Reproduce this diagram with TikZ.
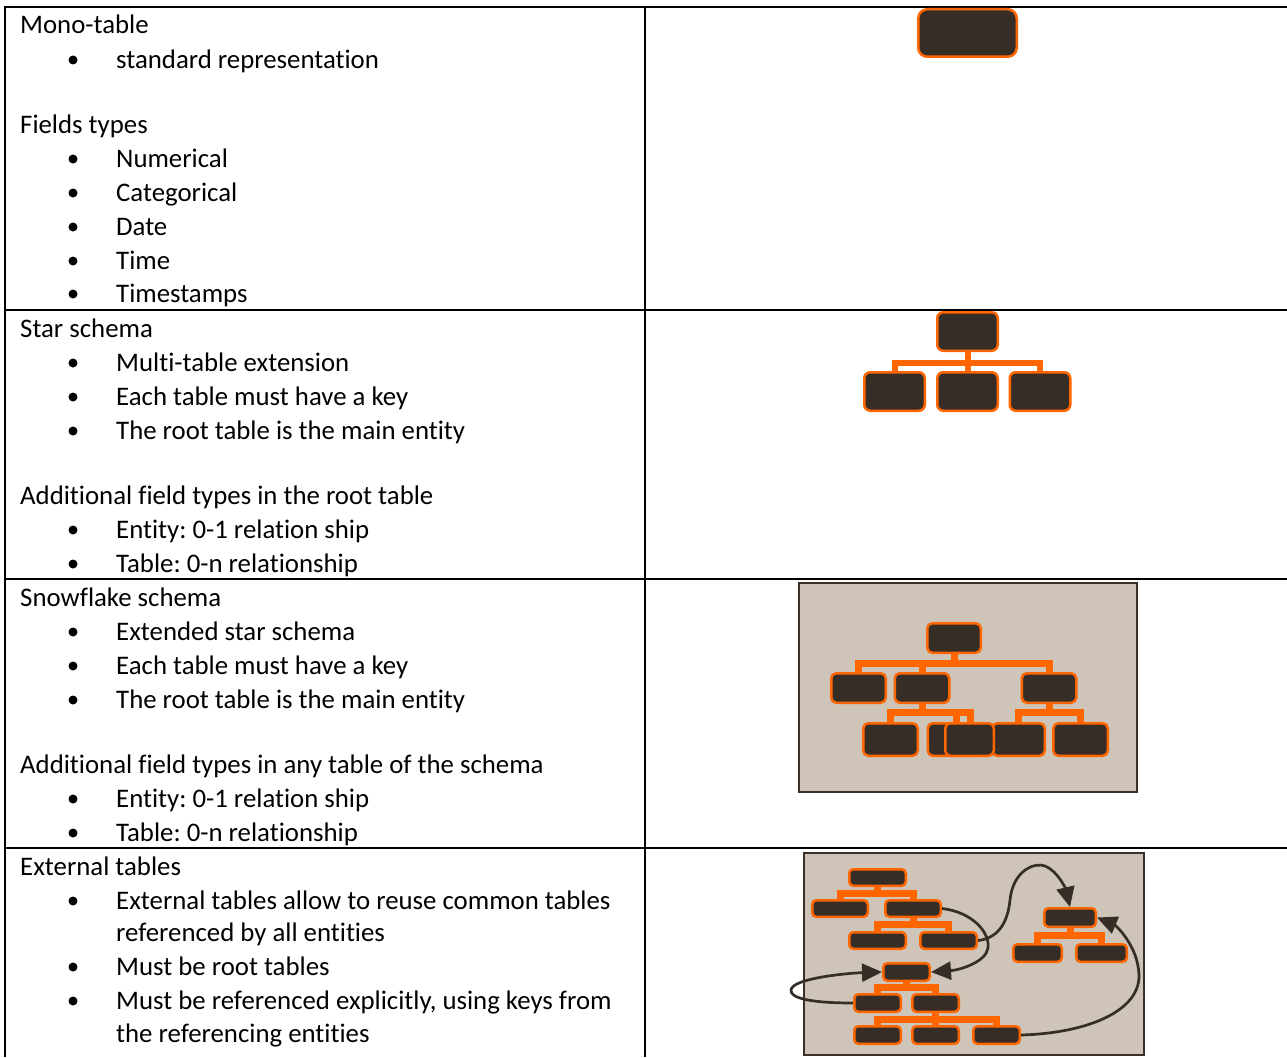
\documentclass[tikz,border=0pt]{standalone}
\usepackage{fontspec}
\setmainfont[Ligatures=NoCommon]{Carlito}
\usetikzlibrary{arrows.meta,calc}
\definecolor{boxfill}{HTML}{362D27}
\definecolor{org}{HTML}{FF6600}
\definecolor{panel}{HTML}{CEC4B8}
\definecolor{pborder}{HTML}{3B3028}
\frenchspacing
\begin{document}
\begin{tikzpicture}[x=1pt,y=-1pt,
 txt/.style={anchor=base west,inner sep=0,yshift=-2pt,font=\fontsize{26.8}{34}\selectfont},
 bul/.style={circle,fill=black,inner sep=0,minimum size=9pt,yshift=-1pt},
 gridline/.style={line width=2pt,black},
 tbl/.style={draw=org,fill=boxfill,line width=2.5pt,rounded corners=6pt,inner sep=0},
 bar/.style={draw=org,line width=6pt},
 link/.style={draw=boxfill,line width=2.7pt,-{Triangle[length=20pt,width=18pt]}},
 pan/.style={draw=pborder,fill=panel,line width=2pt,inner sep=0}
]
\useasboundingbox (0,0) rectangle (1287,1057);
% table grid
\draw[gridline] (5,1057) -- (5,7) -- (1287,7);
\draw[gridline] (645,7) -- (645,1057);
\draw[gridline] (5,310) -- (1287,310);
\draw[gridline] (5,579) -- (1287,579);
\draw[gridline] (5,848) -- (1287,848);
% headings
\node[txt] (h1) at (20,32) {Mono-table};
\node[txt] (h2) at (20,131) {Fields types};
\node[txt] (h3) at (20,335) {Star schema};
\node[txt] (h4) at (20,502) {Additional field types in the root table};
\node[txt] (h5) at (20,604) {Snowflake schema};
\node[txt] (h6) at (20,771) {Additional field types in any table of the schema};
\node[txt] (h7) at (20,873) {External tables};
% bullet items
\foreach \yy/\tt [count=\i] in {66/{standard representation},165/Numerical,199/Categorical,233/Date,267/Time,300/Timestamps,
 369/{Multi-table extension},403/{Each table must have a key},437/{The root table is the main entity},536/{Entity: 0-1 relation ship},570/{Table: 0-n relationship},
 638/{Extended star schema},672/{Each table must have a key},706/{The root table is the main entity},805/{Entity: 0-1 relation ship},839/{Table: 0-n relationship},
 907/{External tables allow to reuse common tables},973/{Must be root tables},1007/{Must be referenced explicitly, using keys from}}{
 \node[txt] (it\i) at (116,\yy) {\tt};
 \node[bul] (bu\i) at (73,\yy-7) {};
}
\node[txt] (w1) at (116,939) {referenced by all entities};
\node[txt] (w2) at (116,1040) {the referencing entities};
% row 1: mono table
\node[tbl,rounded corners=9pt,minimum width=98.5pt,minimum height=47.5pt] (m0) at (967.5,33) {};
% row 2: star
\draw[bar] (894.5,371) -- (894.5,363) -- (1040,363) -- (1040,371);
\draw[bar] (967.5,352) -- (967.5,371);
\node[tbl,minimum width=60.5pt,minimum height=38.5pt] (s0) at (967.5,331.5) {};
\node[tbl,minimum width=60.5pt,minimum height=38.5pt] (s1) at (894.5,391.5) {};
\node[tbl,minimum width=60.5pt,minimum height=38.5pt] (s2) at (967.5,391.5) {};
\node[tbl,minimum width=60.5pt,minimum height=38.5pt] (s3) at (1040,391.5) {};
% row 3: snowflake
\node[pan,minimum width=338pt,minimum height=209pt] (sp) at (968,687.5) {};
\begin{scope}[tbl/.append style={rounded corners=5pt,minimum height=29.5pt}, bar/.append style={line width=7pt}]
\node[tbl,minimum width=53.5pt] (f0) at (954,638) {};
\node[tbl,minimum width=54.5pt] (f1) at (858.5,688) {};
\node[tbl,minimum width=54.5pt] (f2) at (922,688) {};
\node[tbl,minimum width=54.5pt] (f3) at (1049,688) {};
\draw[bar] (f0.south) -- (954,663);
\draw[bar] (f1.north) -- (858.5,663) -- (1049,663) -- (f3.north);
\draw[bar] (f2.north) -- (922,663);
\draw[bar] (f2.south) -- (922,712);
\draw[bar] (890.5,722) -- (890.5,712) -- (970,712) -- (970,722);
\draw[bar] (956,712) -- (956,722);
\draw[bar] (f3.south) -- (1049,712);
\draw[bar] (1018.5,722) -- (1018.5,712) -- (1080.5,712) -- (1080.5,722);
\node[tbl,minimum width=54.5pt,minimum height=32.5pt] (f4) at (890.5,739.5) {};
\node[tbl,minimum width=54.5pt,minimum height=32.5pt] (f5) at (955,739.5) {};
\node[tbl,minimum width=52.5pt,minimum height=32.5pt] (f7) at (1018.5,739.5) {};
\node[tbl,minimum width=54.5pt,minimum height=32.5pt] (f8) at (1080.5,739.5) {};
\node[tbl,minimum width=48.5pt,minimum height=32.5pt] (f6) at (969.5,739.5) {};
\end{scope}
% row 4: external tables
\node[pan,minimum width=340pt,minimum height=202pt] (ep) at (974,954) {};
\begin{scope}[tbl/.append style={rounded corners=4pt,minimum height=16.5pt}, bar/.append style={line width=7pt}]
\node[tbl,minimum width=56.5pt] (a0) at (877.5,877.5) {};
\node[tbl,minimum width=55.5pt] (a1) at (840,908.5) {};
\node[tbl,minimum width=55.5pt] (a2) at (913,908.5) {};
\node[tbl,minimum width=56.5pt] (a3) at (877.5,940.5) {};
\node[tbl,minimum width=56.5pt] (a4) at (948.5,940.5) {};
\node[tbl,minimum width=46.5pt,minimum height=17.5pt] (b0) at (906.5,972) {};
\node[tbl,minimum width=46.5pt,minimum height=17.5pt] (b1) at (877.5,1003) {};
\node[tbl,minimum width=46.5pt,minimum height=17.5pt] (b2) at (935.5,1003) {};
\node[tbl,minimum width=46.5pt,minimum height=17.5pt] (b3) at (877.5,1035) {};
\node[tbl,minimum width=46.5pt,minimum height=17.5pt] (b4) at (935.5,1035) {};
\node[tbl,minimum width=46.5pt,minimum height=17.5pt] (b5) at (996.5,1035) {};
\node[tbl,minimum width=51.5pt,minimum height=18.5pt] (c0) at (1070,917.5) {};
\node[tbl,minimum width=48.5pt,minimum height=17.5pt] (c1) at (1037.5,953) {};
\node[tbl,minimum width=50.5pt,minimum height=17.5pt] (c2) at (1101.5,953) {};
\draw[bar] (a0.south) -- (877.5,893);
\draw[bar] (a1.north) -- (840,893) -- (913,893) -- (a2.north);
\draw[bar] (a2.south) -- (913,924.5);
\draw[bar] (a3.north) -- (877.5,924.5) -- (948.5,924.5) -- (a4.north);
\draw[bar] (b0.south) -- (906.5,987.5);
\draw[bar] (b1.north) -- (877.5,987.5) -- (935.5,987.5) -- (b2.north);
\draw[bar] (b2.south) -- (935.5,1019);
\draw[bar] (b3.north) -- (877.5,1019) -- (996.5,1019) -- (b5.north);
\draw[bar] (b4.north) -- (935.5,1019);
\draw[bar] (c0.south) -- (1070,935.5);
\draw[bar] (c1.north) -- (1037.5,935.5) -- (1101.5,935.5) -- (c2.north);
\end{scope}
\draw[link] (a2.east) .. controls (972,912) and (990,932) .. (988,948) .. controls (986,962) and (960,970) .. (b0.east);
\draw[link] (a4.east) .. controls (1000,938) and (1008,920) .. (1010,900) .. controls (1013,870) and (1035,862) .. (1045,866) .. controls (1058,871) and (1066,890) .. (c0.north);
\draw[link] (b1.west) .. controls (810,1003) and (790,998) .. (791,990) .. controls (792,978) and (850,973) .. (b0.west);
\draw[link] (b5.east) .. controls (1090,1033) and (1140,1010) .. (1139,975) .. controls (1138,945) and (1115,925) .. (c0.east);
\end{tikzpicture}
\end{document}
